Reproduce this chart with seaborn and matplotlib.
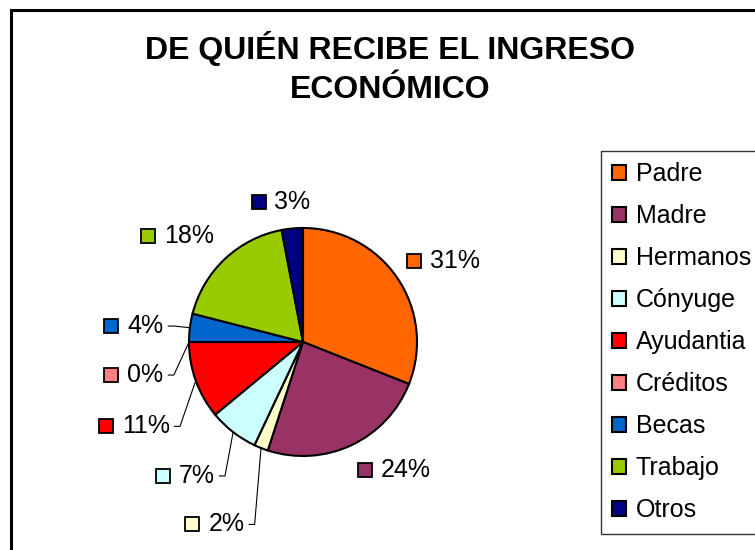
import matplotlib
matplotlib.use("Agg")
import matplotlib.pyplot as plt
import seaborn as sns
import numpy as np
from matplotlib.patches import Rectangle

fuentes = ['Padre', 'Madre', 'Hermanos', 'Cónyuge', 'Ayudantia', 'Créditos', 'Becas', 'Trabajo', 'Otros']
porcentajes = [31, 24, 2, 7, 11, 0, 4, 18, 3]
colores = ['#FF6600', '#993366', '#FFFFCC', '#CCFFFF', '#FF0000', '#FF8080', '#0066CC', '#99CC00', '#000080']

# where each data label (square + text) sits, in pie-radius units
etiqueta_x = [0.97, 0.54, -0.97, -1.23, -1.73, -1.68, -1.68, -1.36, -0.39]
etiqueta_y = [0.71, -1.12, -1.60, -1.175, -0.74, -0.29, 0.14, 0.93, 1.23]
con_guia = [False, False, True, True, True, True, True, False, False]

sns.set_style("white")
plt.rcParams['font.family'] = ['Liberation Sans', 'DejaVu Sans']
plt.rcParams['text.color'] = 'black'

W, H = 755, 550
fig = plt.figure(figsize=(W / 100, H / 100), dpi=100)

# chart frame (right and bottom edges fall outside the picture)
fig.patches.append(Rectangle((11 / W, -0.1), 1.2, 1 - 10 / H + 0.1, transform=fig.transFigure,
                             fill=False, edgecolor='black', linewidth=2.2))

# pie centre at (303, 342) px, radius 114 px
cx, cy, R = 303, 342, 114
ax = fig.add_axes([0, 0, 600 / W, 420 / H])
wedges, _ = ax.pie(porcentajes, colors=colores, startangle=90, counterclock=False,
                   wedgeprops=dict(edgecolor='black', linewidth=1.5))
ax.set_aspect('auto')
ax.set_xlim(-cx / R, (600 - cx) / R)
ax.set_ylim((cy - H) / R, (cy - 130) / R)
ax.axis('off')

textos = []
for i, p in enumerate(porcentajes):
    ax.plot(etiqueta_x[i], etiqueta_y[i], marker='s', ms=10.3, mfc=colores[i], mec='black', mew=1.3, zorder=5)
    t = ax.text(etiqueta_x[i] + 0.14, etiqueta_y[i], f"{p}%", fontsize=18, va='center', ha='left',
                color='black')
    textos.append(t)

fig.canvas.draw()
inv = ax.transData.inverted()
for i, t in enumerate(textos):
    if not con_guia[i]:
        continue
    bb = t.get_window_extent()
    x0, _ = inv.transform((bb.x1, 0))
    x0 += 0.04
    y0 = etiqueta_y[i]
    w = wedges[i]
    ang = np.deg2rad((w.theta1 + w.theta2) / 2)
    ex, ey = np.cos(ang), np.sin(ang)
    ax.plot([x0, x0 + 0.05, ex], [y0, y0, ey], color='black', lw=0.8)

leg = ax.legend(wedges, fuentes, loc='upper left', bbox_to_anchor=(601 / W, 1 - 151 / H),
                bbox_transform=fig.transFigure, fontsize=18, frameon=True, fancybox=False,
                handlelength=0.55, handleheight=0.55, handletextpad=0.4, borderpad=0.45,
                labelspacing=0.72, borderaxespad=0)
leg.get_frame().set_edgecolor('black')
leg.get_frame().set_linewidth(1.0)
for txt in leg.get_texts():
    txt.set_color('black')

fig.text(390 / W, 1 - 68 / H, "DE QUIÉN RECIBE EL INGRESO\nECONÓMICO", ha='center', va='center',
         fontsize=23, fontweight='bold', linespacing=1.35, color='black')

fig.savefig("out.png", dpi=100)
